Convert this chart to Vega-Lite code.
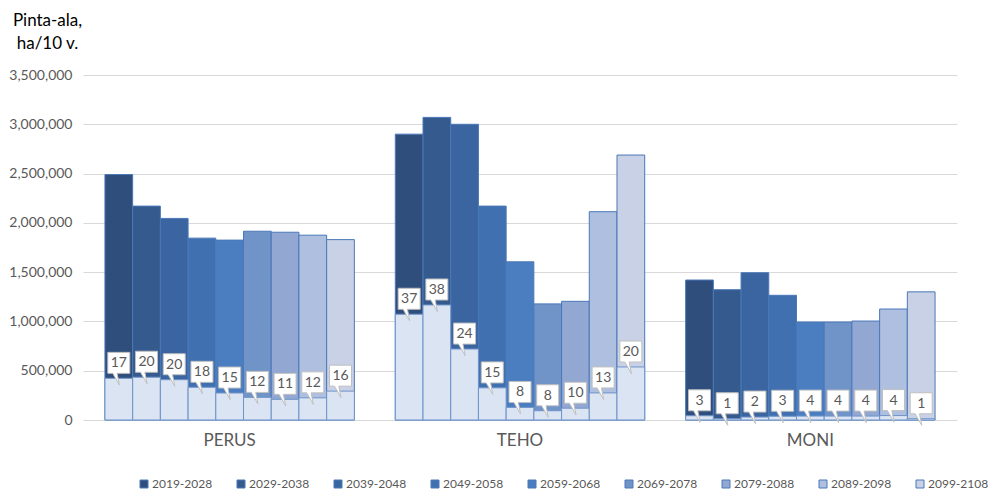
{
  "$schema": "https://vega.github.io/schema/vega-lite/v6.json",
  "autosize": "none",
  "width": 874,
  "height": 345,
  "padding": {"left": 83, "top": 75, "right": 38, "bottom": 70},
  "background": "white",
  "config": {
    "font": "Lato",
    "view": {"stroke": null},
    "axis": {"labelFont": "Lato", "titleFont": "Lato"},
    "legend": {"labelFont": "Lato"}
  },
  "data": {
    "values": [
      {"ryhma": "PERUS", "jakso": "2019-2028", "ala": 2490000, "osuus_ala": 423000, "osuus": 17},
      {"ryhma": "PERUS", "jakso": "2029-2038", "ala": 2170000, "osuus_ala": 434000, "osuus": 20},
      {"ryhma": "PERUS", "jakso": "2039-2048", "ala": 2045000, "osuus_ala": 409000, "osuus": 20},
      {"ryhma": "PERUS", "jakso": "2049-2058", "ala": 1845000, "osuus_ala": 332000, "osuus": 18},
      {"ryhma": "PERUS", "jakso": "2059-2068", "ala": 1825000, "osuus_ala": 274000, "osuus": 15},
      {"ryhma": "PERUS", "jakso": "2069-2078", "ala": 1915000, "osuus_ala": 230000, "osuus": 12},
      {"ryhma": "PERUS", "jakso": "2079-2088", "ala": 1905000, "osuus_ala": 210000, "osuus": 11},
      {"ryhma": "PERUS", "jakso": "2089-2098", "ala": 1875000, "osuus_ala": 225000, "osuus": 12},
      {"ryhma": "PERUS", "jakso": "2099-2108", "ala": 1830000, "osuus_ala": 293000, "osuus": 16},
      {"ryhma": "TEHO", "jakso": "2019-2028", "ala": 2900000, "osuus_ala": 1073000, "osuus": 37},
      {"ryhma": "TEHO", "jakso": "2029-2038", "ala": 3070000, "osuus_ala": 1167000, "osuus": 38},
      {"ryhma": "TEHO", "jakso": "2039-2048", "ala": 3000000, "osuus_ala": 720000, "osuus": 24},
      {"ryhma": "TEHO", "jakso": "2049-2058", "ala": 2170000, "osuus_ala": 326000, "osuus": 15},
      {"ryhma": "TEHO", "jakso": "2059-2068", "ala": 1605000, "osuus_ala": 128000, "osuus": 8},
      {"ryhma": "TEHO", "jakso": "2069-2078", "ala": 1178000, "osuus_ala": 94000, "osuus": 8},
      {"ryhma": "TEHO", "jakso": "2079-2088", "ala": 1204000, "osuus_ala": 120000, "osuus": 10},
      {"ryhma": "TEHO", "jakso": "2089-2098", "ala": 2113000, "osuus_ala": 275000, "osuus": 13},
      {"ryhma": "TEHO", "jakso": "2099-2108", "ala": 2688000, "osuus_ala": 538000, "osuus": 20},
      {"ryhma": "MONI", "jakso": "2019-2028", "ala": 1420000, "osuus_ala": 43000, "osuus": 3},
      {"ryhma": "MONI", "jakso": "2029-2038", "ala": 1322000, "osuus_ala": 13000, "osuus": 1},
      {"ryhma": "MONI", "jakso": "2039-2048", "ala": 1494000, "osuus_ala": 30000, "osuus": 2},
      {"ryhma": "MONI", "jakso": "2049-2058", "ala": 1265000, "osuus_ala": 38000, "osuus": 3},
      {"ryhma": "MONI", "jakso": "2059-2068", "ala": 994000, "osuus_ala": 40000, "osuus": 4},
      {"ryhma": "MONI", "jakso": "2069-2078", "ala": 994000, "osuus_ala": 40000, "osuus": 4},
      {"ryhma": "MONI", "jakso": "2079-2088", "ala": 1004000, "osuus_ala": 40000, "osuus": 4},
      {"ryhma": "MONI", "jakso": "2089-2098", "ala": 1126000, "osuus_ala": 45000, "osuus": 4},
      {"ryhma": "MONI", "jakso": "2099-2108", "ala": 1300000, "osuus_ala": 13000, "osuus": 1}
    ]
  },
  "encoding": {
    "x": {
      "field": "ryhma",
      "type": "nominal",
      "sort": ["PERUS", "TEHO", "MONI"],
      "scale": {"paddingInner": 0.141, "paddingOuter": 0.0756},
      "axis": {
        "title": null,
        "domain": false,
        "ticks": false,
        "labelAngle": 0,
        "labelPadding": 12,
        "labelFontSize": 17,
        "labelColor": "#595959"
      }
    },
    "xOffset": {
      "field": "jakso",
      "type": "nominal",
      "scale": {"paddingInner": 0, "paddingOuter": 0}
    }
  },
  "layer": [
    {
      "mark": {"type": "bar", "stroke": "#4a78b8", "strokeWidth": 1},
      "encoding": {
        "y": {
          "field": "ala",
          "type": "quantitative",
          "scale": {"domain": [0, 3500000]},
          "axis": {
            "title": ["Pinta-ala,", "ha/10 v."],
            "titleAngle": 0,
            "titleAlign": "center",
            "titleBaseline": "top",
            "titleX": -36,
            "titleY": -63,
            "titleFontSize": 17,
            "titleFontWeight": "normal",
            "titleColor": "#000000",
            "titleLineHeight": 23,
            "values": [0, 500000, 1000000, 1500000, 2000000, 2500000, 3000000, 3500000],
            "format": ",.0f",
            "domain": false,
            "ticks": false,
            "labelPadding": 11,
            "labelFontSize": 14,
            "labelColor": "#595959",
            "gridColor": "#d9d9d9",
            "gridWidth": 1
          }
        },
        "color": {
          "field": "jakso",
          "type": "nominal",
          "scale": {
            "domain": ["2019-2028", "2029-2038", "2039-2048", "2049-2058", "2059-2068", "2069-2078", "2079-2088", "2089-2098", "2099-2108"],
            "range": ["#2f4e7c", "#345a8e", "#3a65a0", "#4070b0", "#4a7ec0", "#7093c8", "#92a7d2", "#afbfe0", "#c8d1e6"]
          },
          "legend": {
            "title": null,
            "orient": "none",
            "direction": "horizontal",
            "columns": 9,
            "legendX": 55,
            "legendY": 403,
            "symbolType": "square",
            "symbolSize": 64,
            "symbolStrokeColor": "#4a78b8",
            "symbolStrokeWidth": 1,
            "labelFontSize": 12,
            "labelColor": "#595959",
            "labelOffset": 2,
            "columnPadding": 22
          }
        }
      }
    },
    {
      "mark": {"type": "bar", "fill": "#dae4f2", "stroke": "#6f93c9", "strokeWidth": 1},
      "encoding": {
        "y": {"field": "osuus_ala", "type": "quantitative"}
      }
    },
    {
      "mark": {
        "type": "point",
        "shape": "M-1,-2.36H1V-0.45H-0.15L0.05,0.6L-0.55,-0.45H-1Z",
        "size": 484,
        "filled": true,
        "fill": "#ffffff",
        "stroke": "#bfbfbf",
        "strokeWidth": 1,
        "opacity": 1
      },
      "encoding": {
        "y": {"field": "osuus_ala", "type": "quantitative"}
      }
    },
    {
      "mark": {
        "type": "text",
        "dy": -15,
        "baseline": "middle",
        "align": "center",
        "fontSize": 14,
        "color": "#595959"
      },
      "encoding": {
        "y": {"field": "osuus_ala", "type": "quantitative"},
        "text": {"field": "osuus", "type": "quantitative"}
      }
    }
  ]
}
